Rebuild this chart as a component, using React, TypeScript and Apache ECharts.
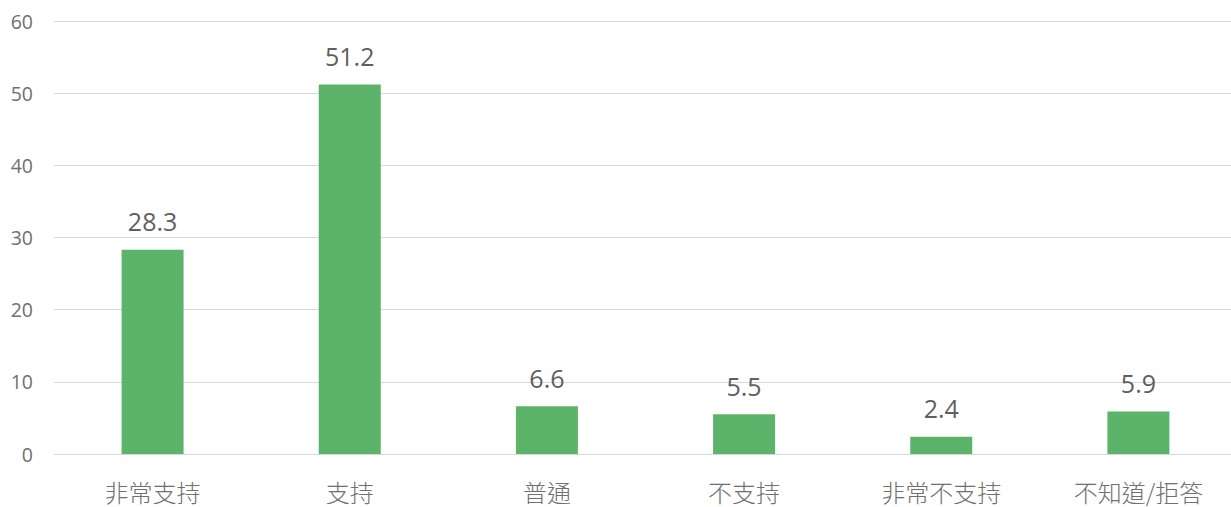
import React, { useEffect, useRef } from "react";
import * as echarts from "echarts";

const categories = ["非常支持", "支持", "普通", "不支持", "非常不支持", "不知道/拒答"];
const values = [28.3, 51.2, 6.6, 5.5, 2.4, 5.9];
const yTicks = { min: 0, max: 60, interval: 10 };

export default function App() {
  const ref = useRef<HTMLDivElement>(null);
  useEffect(() => {
    document.body.style.margin = "0";
    document.documentElement.style.overflow = "hidden";
    document.body.style.overflow = "hidden";
    const chart = echarts.init(ref.current!, null, { renderer: "svg" });
    const font = "'Open Sans', 'Noto Sans CJK TC', sans-serif";
    chart.setOption({
      animation: false,
      grid: { left: 54, right: 0, top: 21, bottom: 53, containLabel: false },
      xAxis: {
        type: "category",
        data: categories,
        axisLine: { show: true, lineStyle: { color: "#d9d9d9", width: 1 } },
        axisTick: { show: false },
        axisLabel: {
          color: "#707070",
          fontSize: 24,
          lineHeight: 24,
          margin: 25,
          fontWeight: 300,
          fontFamily: "'Noto Sans CJK TC', sans-serif",
        },
      },
      yAxis: {
        type: "value",
        min: yTicks.min,
        max: yTicks.max,
        interval: yTicks.interval,
        axisLine: { show: false },
        axisTick: { show: false },
        splitLine: { lineStyle: { color: "#d9d9d9", width: 1 } },
        axisLabel: { color: "#707070", fontSize: 19.5, margin: 21, fontFamily: font },
      },
      series: [
        {
          type: "bar",
          data: values,
          barWidth: 62,
          itemStyle: { color: "#5cb36a" },
          label: {
            show: true,
            position: "top",
            distance: 16,
            color: "#606060",
            fontSize: 25,
            fontFamily: font,
          },
        },
      ],
    });
    return () => chart.dispose();
  }, []);
  return (
    <div style={{ width: 1231, height: 507, overflow: "hidden" }}>
      <div ref={ref} style={{ width: 1237, height: 507 }} />
    </div>
  );
}
